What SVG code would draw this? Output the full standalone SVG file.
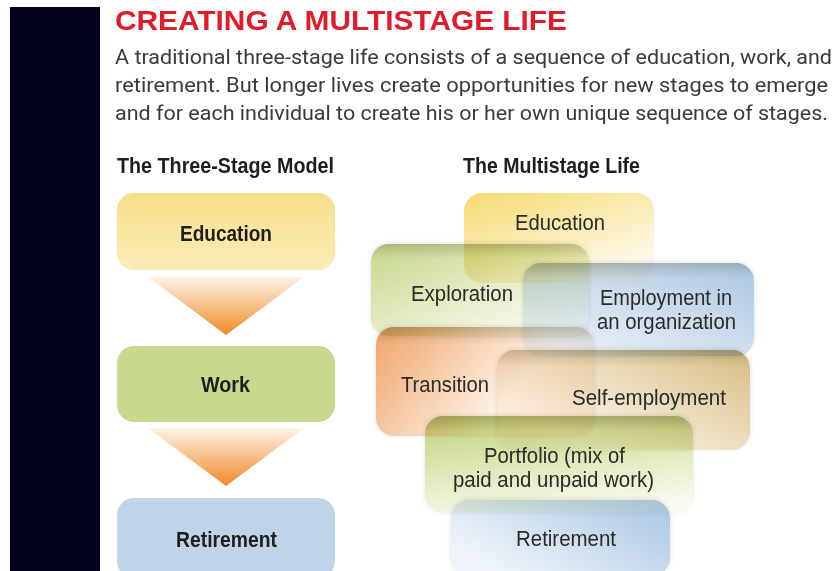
<svg xmlns="http://www.w3.org/2000/svg" width="835" height="571" viewBox="0 0 835 571">
  <defs>
    <style>
      .title { font-family: "Liberation Sans", Arial, sans-serif; font-weight: bold; font-size: 28px; fill: #e01b2a; }
      .body { font-family: Roboto, "Liberation Sans", sans-serif; font-size: 20px; fill: #3a3a3a; }
      .sub { font-family: "Liberation Sans", Arial, sans-serif; font-weight: bold; font-size: 22px; fill: #1e1e1e; }
      .lbl-b { font-family: "Liberation Sans", Arial, sans-serif; font-weight: bold; font-size: 22px; fill: #1e1e1e; }
      .lbl { font-family: "Liberation Sans", Arial, sans-serif; font-size: 22px; fill: #2a2a2a; }
      .ms { mix-blend-mode: multiply; }
      .shade { fill: url(#topShade); }
    </style>
    <!-- three-stage boxes -->
    <linearGradient id="gEduL" x1="0" y1="0" x2="0" y2="1">
      <stop offset="0" stop-color="#f6de88"/>
      <stop offset="1" stop-color="#fbecb6"/>
    </linearGradient>
    <linearGradient id="gTri" x1="0" y1="0" x2="0" y2="1">
      <stop offset="0" stop-color="#fdf3e8"/>
      <stop offset="1" stop-color="#ef8a26"/>
    </linearGradient>
    <!-- multistage boxes -->
    <linearGradient id="gEdu" x1="0" y1="0" x2="0.7" y2="1">
      <stop offset="0" stop-color="#f5da70"/>
      <stop offset="1" stop-color="#fffbf2"/>
    </linearGradient>
    <linearGradient id="gExp" x1="0" y1="0" x2="1" y2="1">
      <stop offset="0" stop-color="#c6d68a"/>
      <stop offset="0.9" stop-color="#fcfdf7"/>
    </linearGradient>
    <linearGradient id="gEmp" x1="1" y1="0" x2="0" y2="1">
      <stop offset="0" stop-color="#adc7e2"/>
      <stop offset="1" stop-color="#f2f6fb"/>
    </linearGradient>
    <linearGradient id="gTra" x1="0" y1="0" x2="1" y2="0.4">
      <stop offset="0" stop-color="#f0a466"/>
      <stop offset="0.75" stop-color="#fdf2e8"/>
    </linearGradient>
    <linearGradient id="gSel" x1="1" y1="0" x2="0" y2="0.8">
      <stop offset="0" stop-color="#d6bd80"/>
      <stop offset="0.85" stop-color="#fdf6ee"/>
    </linearGradient>
    <linearGradient id="gPor" x1="0.3" y1="0" x2="0.6" y2="1">
      <stop offset="0" stop-color="#c5d683"/>
      <stop offset="1" stop-color="#fafcf2"/>
    </linearGradient>
    <linearGradient id="gRet" x1="1" y1="0" x2="0" y2="0.6">
      <stop offset="0" stop-color="#aac5e2"/>
      <stop offset="1" stop-color="#eef4fa"/>
    </linearGradient>
    <!-- darker band along the top edge of the overlapping boxes -->
    <linearGradient id="topShade" x1="0" y1="0" x2="0" y2="1">
      <stop offset="0" stop-color="#4a4a30" stop-opacity="0.22"/>
      <stop offset="0.16" stop-color="#4a4a30" stop-opacity="0"/>
    </linearGradient>
    <filter id="soft" x="-10%" y="-20%" width="120%" height="140%">
      <feDropShadow dx="0" dy="-1" stdDeviation="2" flood-color="#3a3a20" flood-opacity="0.12"/>
    </filter>
  </defs>

  <rect width="835" height="571" fill="#ffffff"/>
  <!-- side bar -->
  <rect x="10" y="7" width="90" height="564" fill="#02021a"/>

  <!-- heading and intro -->
  <text class="title" x="115" y="30" textLength="452" lengthAdjust="spacingAndGlyphs">CREATING A MULTISTAGE LIFE</text>
  <text class="body" x="115" y="64" textLength="717" lengthAdjust="spacingAndGlyphs">A traditional three-stage life consists of a sequence of education, work, and</text>
  <text class="body" x="115" y="92" textLength="713" lengthAdjust="spacingAndGlyphs">retirement. But longer lives create opportunities for new stages to emerge</text>
  <text class="body" x="115" y="120" textLength="713" lengthAdjust="spacingAndGlyphs">and for each individual to create his or her own unique sequence of stages.</text>

  <text class="sub" x="117" y="173" textLength="217" lengthAdjust="spacingAndGlyphs">The Three-Stage Model</text>
  <text class="sub" x="463" y="173" textLength="177" lengthAdjust="spacingAndGlyphs">The Multistage Life</text>

  <!-- three-stage model -->
  <g id="ts-education">
    <rect x="117" y="193" width="218" height="77" rx="17" fill="url(#gEduL)"/>
    <text class="lbl-b" x="180" y="241" textLength="92" lengthAdjust="spacingAndGlyphs">Education</text>
  </g>
  <g id="ts-work">
    <rect x="117" y="346" width="218" height="76" rx="17" fill="#c7d98c"/>
    <text class="lbl-b" x="201" y="392" textLength="49" lengthAdjust="spacingAndGlyphs">Work</text>
  </g>
  <g id="ts-retirement">
    <rect x="117" y="498" width="218" height="80" rx="17" fill="#bfd4e9"/>
    <text class="lbl-b" x="176" y="547" textLength="101" lengthAdjust="spacingAndGlyphs">Retirement</text>
  </g>
  <g id="ts-arrows">
    <polygon points="148,277 304,277 226,335" fill="url(#gTri)"/>
    <polygon points="148,428 304,428 226,486" fill="url(#gTri)"/>
  </g>

  <!-- multistage life -->
  <g id="ms-education" class="ms">
    <rect x="464" y="193" width="190" height="90" rx="18" fill="url(#gEdu)"/>
    <text class="lbl" x="515" y="230" textLength="90" lengthAdjust="spacingAndGlyphs">Education</text>
  </g>
  <g id="ms-exploration" class="ms">
    <rect x="371" y="244" width="218" height="92" rx="18" fill="url(#gExp)" filter="url(#soft)"/>
    <rect class="shade" x="371" y="244" width="218" height="92" rx="18"/>
    <text class="lbl" x="411" y="301" textLength="102" lengthAdjust="spacingAndGlyphs">Exploration</text>
  </g>
  <g id="ms-employment" class="ms">
    <rect x="523" y="263" width="231" height="93" rx="18" fill="url(#gEmp)" filter="url(#soft)"/>
    <rect class="shade" x="523" y="263" width="231" height="93" rx="18"/>
    <text class="lbl" x="600" y="305" textLength="132" lengthAdjust="spacingAndGlyphs">Employment in</text>
    <text class="lbl" x="597" y="329" textLength="139" lengthAdjust="spacingAndGlyphs">an organization</text>
  </g>
  <g id="ms-transition" class="ms">
    <rect x="376" y="327" width="218" height="109" rx="18" fill="url(#gTra)" filter="url(#soft)"/>
    <rect class="shade" x="376" y="327" width="218" height="109" rx="18"/>
    <text class="lbl" x="401" y="392" textLength="88" lengthAdjust="spacingAndGlyphs">Transition</text>
  </g>
  <g id="ms-self-employment" class="ms">
    <rect x="497" y="350" width="253" height="100" rx="18" fill="url(#gSel)" filter="url(#soft)"/>
    <rect class="shade" x="497" y="350" width="253" height="100" rx="18"/>
    <text class="lbl" x="572" y="405" textLength="154" lengthAdjust="spacingAndGlyphs">Self-employment</text>
  </g>
  <g id="ms-portfolio" class="ms">
    <rect x="425" y="416" width="268" height="97" rx="18" fill="url(#gPor)" filter="url(#soft)"/>
    <rect class="shade" x="425" y="416" width="268" height="97" rx="18"/>
    <text class="lbl" x="484" y="463" textLength="141" lengthAdjust="spacingAndGlyphs">Portfolio (mix of</text>
    <text class="lbl" x="453" y="487" textLength="201" lengthAdjust="spacingAndGlyphs">paid and unpaid work)</text>
  </g>
  <g id="ms-retirement" class="ms">
    <rect x="451" y="500" width="219" height="76" rx="18" fill="url(#gRet)" filter="url(#soft)"/>
    <text class="lbl" x="516" y="546" textLength="100" lengthAdjust="spacingAndGlyphs">Retirement</text>
  </g>
</svg>
